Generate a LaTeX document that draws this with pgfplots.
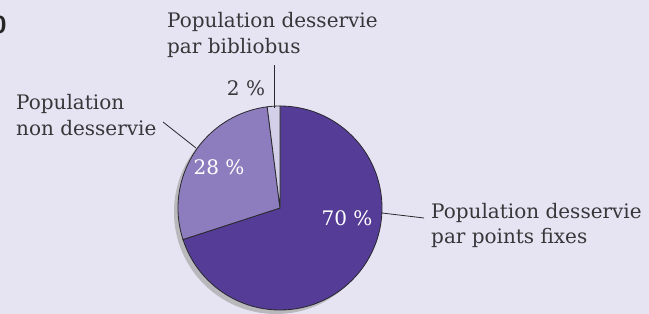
\documentclass[border=0pt]{standalone}
\usepackage{pgfplots}
\pgfplotsset{compat=1.18}
\usepackage{fontspec}
\setmainfont{DejaVu Serif}
\newfontfamily\boldsans{Liberation Sans}
\definecolor{bg}{RGB}{230,228,242}
\definecolor{cA}{RGB}{85,61,151}
\definecolor{cB}{RGB}{142,125,190}
\definecolor{cC}{RGB}{212,207,232}
\definecolor{shad}{RGB}{185,185,189}
\definecolor{txt}{RGB}{55,55,58}
\definecolor{edge}{RGB}{40,40,45}
\begin{document}
\begin{tikzpicture}
\useasboundingbox (0,0) rectangle (649bp,314bp);
\clip (0,0) rectangle (649bp,314bp);
\fill[bg] (0,0) rectangle (649bp,314bp);
\begin{axis}[
  at={(0,0)}, anchor=south west,
  x=1bp, y=1bp, xmin=0, xmax=649, ymin=0, ymax=314,
  scale only axis, hide axis, clip=false,
]
% shadow
\fill[shad] (axis cs:276,102) circle[radius=102bp];
% slices: 70, 28, 2 (clockwise from top)
\fill[cA, draw=edge, line width=0.8bp] (axis cs:280,106) -- ++(90:102bp) arc[start angle=90, end angle={90-3.6*70}, radius=102bp] -- cycle;
\fill[cB, draw=edge, line width=0.8bp] (axis cs:280,106) -- ++({90-3.6*70}:102bp) arc[start angle={90-3.6*70}, end angle={90-3.6*98}, radius=102bp] -- cycle;
\fill[cC, draw=edge, line width=0.8bp] (axis cs:280,106) -- ++({90-3.6*98}:102bp) arc[start angle={90-3.6*98}, end angle={90-3.6*100}, radius=102bp] -- cycle;
% leader lines
\draw[edge, line width=0.8bp] (axis cs:274,206) -- (axis cs:274,249);
\draw[edge, line width=0.8bp] (axis cs:196,166) -- (axis cs:163,192);
\draw[edge, line width=0.8bp] (axis cs:382,101) -- (axis cs:424,96);
% labels
\begin{scope}[every node/.style={inner sep=0pt, text=txt, font=\fontsize{20bp}{26bp}\selectfont, anchor=base west}]
\node at (axis cs:167,287) {Population desservie};
\node at (axis cs:167,261) {par bibliobus};
\node at (axis cs:16,205) {Population};
\node at (axis cs:16,179) {non desservie};
\node at (axis cs:431,96) {Population desservie};
\node at (axis cs:431,71) {par points fixes};
\node[anchor=base] at (axis cs:246,219) {2 \%};
\node[anchor=base, text=white] at (axis cs:219,140) {28 \%};
\node[anchor=base, text=white] at (axis cs:347,89) {70 \%};
\node[anchor=base, text=black!85, font=\boldsans\bfseries\fontsize{25bp}{27bp}\selectfont] at (axis cs:-0.5,281) {0};
\end{scope}
\end{axis}
\end{tikzpicture}
\end{document}
